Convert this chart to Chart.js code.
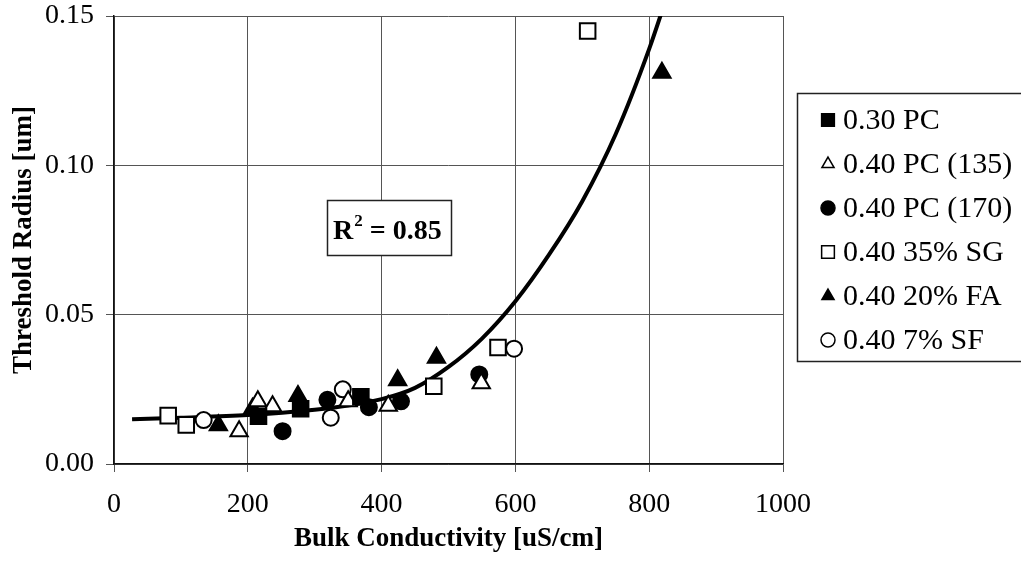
<!DOCTYPE html>
<html>
<head>
<meta charset="utf-8">
<script src="https://cdn.jsdelivr.net/npm/chart.js@4.4.1/dist/chart.umd.min.js"></script>
<style>
  body { margin: 0; background: #fff; }
  #wrap { width: 1021px; height: 563px; }
</style>
</head>
<body>
<div id="wrap"><canvas id="radiusChart" width="1021" height="563"></canvas></div>
<script>
// series names, in legend order
const seriesNames = ['0.30 PC', '0.40 PC (135)', '0.40 PC (170)', '0.40 35% SG', '0.40 20% FA', '0.40 7% SF'];

// bulk conductivity [uS/cm] and threshold radius [um] per mix
const pc30X = [216, 279, 369];
const pc30Y = [0.0160, 0.0185, 0.0225];
const pc135X = [187, 215, 237, 350, 410, 549];
const pc135Y = [0.0110, 0.0210, 0.0193, 0.0210, 0.0195, 0.0270];
const pc170X = [252, 319, 381, 429, 546];
const pc170Y = [0.0110, 0.0215, 0.0190, 0.0210, 0.0300];
const sgX = [81, 108, 478, 574, 708];
const sgY = [0.0162, 0.0131, 0.0260, 0.0390, 0.1450];
const faX = [156, 207, 275, 424, 482, 819];
const faY = [0.0130, 0.0185, 0.0228, 0.0280, 0.0356, 0.1310];
const sfX = [134, 324, 342, 598];
const sfY = [0.0147, 0.0155, 0.0250, 0.0386];

// trend line read along its length
const fitX = [27, 100, 200, 300, 350, 400, 450, 500, 550, 600, 650, 700, 750, 800, 830];
const fitY = [0.0150, 0.0155, 0.0164, 0.0182, 0.0196, 0.0217, 0.0255, 0.0325, 0.0420, 0.0545, 0.0700, 0.0880, 0.1105, 0.1390, 0.1590];

const xTicks = [0, 200, 400, 600, 800, 1000];
const yTicks = [0, 0.05, 0.10, 0.15];
const rSquared = '0.85';

const serif = '"Liberation Serif", "Times New Roman", serif';

function toPoints(xs, ys) {
    return xs.map((x, i) => ({ x: x, y: ys[i] }));
}

function marker(xs, ys, i, style, filled, radius) {
    return {
        label: seriesNames[i],
        data: toPoints(xs, ys),
        pointStyle: style,
        pointRadius: radius,
        pointHoverRadius: radius,
        backgroundColor: filled ? '#000' : '#fff',
        borderColor: '#000',
        borderWidth: 2,
        showLine: false,
        order: 1
    };
}

const datasets = [
    marker(pc30X, pc30Y, 0, 'rect', true, 11),
    marker(pc135X, pc135Y, 1, 'triangle', false, 10),
    marker(pc170X, pc170Y, 2, 'circle', true, 8),
    marker(sgX, sgY, 3, 'rect', false, 11),
    marker(faX, faY, 4, 'triangle', true, 10),
    marker(sfX, sfY, 5, 'circle', false, 8),
    {
        label: 'fit',
        data: toPoints(fitX, fitY),
        showLine: true,
        borderColor: '#000',
        borderWidth: 4,
        pointRadius: 0,
        cubicInterpolationMode: 'monotone',
        order: 2
    }
];

// legend box on the right
const legendBox = {
    id: 'legendBox',
    afterDraw(chart) {
        const ctx = chart.ctx;
        ctx.save();
        ctx.strokeStyle = '#222';
        ctx.lineWidth = 1.5;
        ctx.strokeRect(797.5, 93.5, 240, 268);
        ctx.font = '30px ' + serif;
        ctx.textBaseline = 'middle';
        seriesNames.forEach((name, i) => {
            const ds = chart.data.datasets[i];
            const y = 120 + i * 44;
            ctx.fillStyle = ds.backgroundColor;
            ctx.strokeStyle = '#000';
            ctx.lineWidth = 1.5;
            Chart.helpers.drawPoint(ctx, {
                pointStyle: ds.pointStyle,
                radius: ds.pointStyle === 'rect' ? 9 : 7,
                borderWidth: 1.5,
                rotation: 0
            }, 828, y);
            ctx.fillStyle = '#000';
            ctx.fillText(name, 843, y + 1);
        });
        ctx.restore();
    }
};

// R² label inside the plot
const rBox = {
    id: 'rBox',
    afterDraw(chart) {
        const ctx = chart.ctx;
        ctx.save();
        ctx.fillStyle = '#fff';
        ctx.fillRect(327, 200, 124, 55);
        ctx.strokeStyle = '#222';
        ctx.lineWidth = 1.5;
        ctx.strokeRect(327.5, 200.5, 124, 55);
        ctx.fillStyle = '#000';
        ctx.textBaseline = 'alphabetic';
        ctx.font = 'bold 28px ' + serif;
        let x = 333;
        ctx.fillText('R', x, 239);
        x += ctx.measureText('R').width + 1;
        ctx.font = 'bold 17px ' + serif;
        ctx.fillText('2', x, 226);
        x += ctx.measureText('2').width;
        ctx.font = 'bold 28px ' + serif;
        ctx.fillText(' = ' + rSquared, x, 239);
        ctx.restore();
    }
};

new Chart(document.getElementById('radiusChart'), {
    type: 'scatter',
    data: { datasets: datasets },
    options: {
        responsive: false,
        animation: false,
        devicePixelRatio: 1,
        layout: { padding: { top: 16, right: 238, left: 0, bottom: 0 } },
        plugins: {
            legend: { display: false },
            tooltip: { enabled: false }
        },
        scales: {
            x: {
                type: 'linear',
                min: 0,
                max: 1000,
                afterBuildTicks(scale) {
                    scale.ticks = xTicks.map(v => ({ value: v }));
                },
                afterFit(scale) {
                    scale.height = 99;
                    scale.paddingLeft = 0;
                    scale.paddingRight = 0;
                },
                grid: { color: '#555', lineWidth: 1, tickLength: 8 },
                border: { color: '#111', width: 1.5 },
                ticks: {
                    color: '#000',
                    padding: 16,
                    maxRotation: 0,
                    font: { family: serif, size: 28 },
                    callback: v => String(v)
                },
                title: {
                    display: true,
                    text: 'Bulk Conductivity [uS/cm]',
                    color: '#000',
                    font: { family: serif, size: 27, weight: 'bold' },
                    padding: { top: 0, bottom: 8 }
                }
            },
            y: {
                type: 'linear',
                min: 0,
                max: 0.15,
                afterBuildTicks(scale) {
                    scale.ticks = yTicks.map(v => ({ value: v }));
                },
                afterFit(scale) {
                    scale.width = 114;
                    scale.paddingTop = 0;
                    scale.paddingBottom = 0;
                },
                grid: { color: '#555', lineWidth: 1, tickLength: 8 },
                border: { color: '#111', width: 1.5 },
                ticks: {
                    color: '#000',
                    padding: 12,
                    font: { family: serif, size: 28 },
                    callback: v => v.toFixed(2)
                },
                title: {
                    display: true,
                    text: 'Threshold Radius [um]',
                    color: '#000',
                    font: { family: serif, size: 27, weight: 'bold' },
                    padding: { top: 8, bottom: 0 }
                }
            }
        }
    },
    plugins: [legendBox, rBox]
});
</script>
</body>
</html>
